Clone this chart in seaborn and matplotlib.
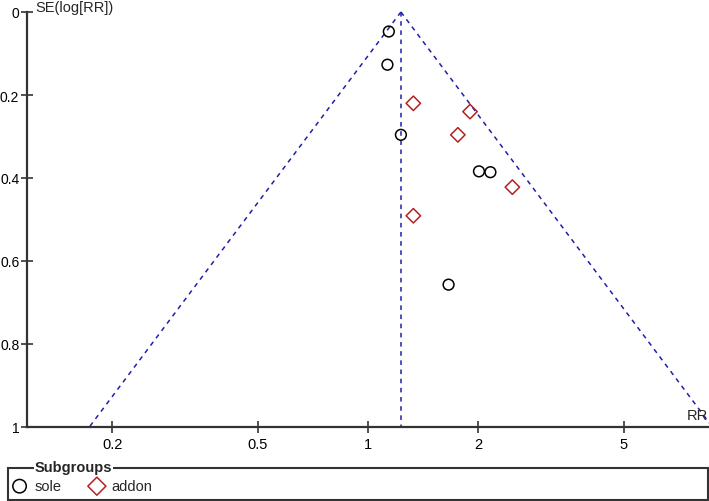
import matplotlib
matplotlib.use("Agg")
import matplotlib.pyplot as plt
import matplotlib.ticker as mticker
from matplotlib.patches import Rectangle
import numpy as np
import pandas as pd
import seaborn as sns

# study estimates
sole_rr = [1.14, 1.13, 1.23, 2.01, 2.16, 1.66]
sole_se = [0.047, 0.127, 0.296, 0.384, 0.386, 0.657]
addon_rr = [1.33, 1.90, 1.76, 2.48, 1.33]
addon_se = [0.220, 0.240, 0.296, 0.422, 0.491]
pooled_rr = 1.23
x_ticks = [0.2, 0.5, 1, 2, 5]
y_ticks = [0, 0.2, 0.4, 0.6, 0.8, 1]

sole = pd.DataFrame({"rr": sole_rr, "se": sole_se})
addon = pd.DataFrame({"rr": addon_rr, "se": addon_se})

sns.set_theme(style="white")
plt.rcParams["font.family"] = ["Liberation Sans", "DejaVu Sans"]
plt.rcParams["font.size"] = 10

W, H = 709, 502
fig = plt.figure(figsize=(W / 100, H / 100), dpi=100)
ax = fig.add_axes([27 / W, 74 / H, 682 / W, 415 / H])

blue = "#1f1fa8"
red = "#b22222"

# funnel (pseudo 95% limits) and pooled estimate line
se_line = np.array([0, 1.0])
ax.plot(pooled_rr * np.exp(-1.96 * se_line), se_line, ls=(0, (3, 3)), color=blue, lw=1.1, clip_on=False)
ax.plot(pooled_rr * np.exp(1.96 * se_line), se_line, ls=(0, (3, 3)), color=blue, lw=1.1, clip_on=False)
ax.plot([pooled_rr, pooled_rr], [0, 1], ls=(0, (3, 3)), color=blue, lw=1.1, clip_on=False)

sns.scatterplot(data=sole, x="rr", y="se", marker="o", s=60, facecolor="none",
                edgecolor="black", linewidth=1.1, color="black", ax=ax, label="sole", zorder=3)
sns.scatterplot(data=addon, x="rr", y="se", marker="D", s=54, facecolor="none",
                edgecolor=red, linewidth=1.1, color=red, ax=ax, label="addon", zorder=3)

ax.set_xscale("log")
lim = 10 ** 0.9317
ax.set_xlim(1 / lim, lim)
ax.set_ylim(1, 0)
ax.set_xticks(x_ticks)
ax.xaxis.set_major_formatter(mticker.FuncFormatter(lambda v, p: f"{v:g}"))
ax.xaxis.set_minor_locator(mticker.NullLocator())
ax.set_yticks(y_ticks)
ax.yaxis.set_major_formatter(mticker.FuncFormatter(lambda v, p: f"{v:g}"))
ax.set_xlabel("")
ax.set_ylabel("")
ax.tick_params(bottom=True, left=True, direction="inout", length=9, width=1.1,
               color="#222222", labelsize=10.5, labelcolor="black")
ax.tick_params(axis="x", pad=3)
ax.tick_params(axis="y", pad=1, labelsize=10)

for side in ["top", "right"]:
    ax.spines[side].set_visible(False)
for side in ["left", "bottom"]:
    ax.spines[side].set_color("#333333")
    ax.spines[side].set_linewidth(1.6)

fig.text(35 / W, 1 - 8 / H, "SE(log[RR])", ha="left", va="center", fontsize=10.5)
fig.text(708 / W, 1 - 416 / H, "RR", ha="right", va="center", fontsize=10.5)

# subgroup legend box along the bottom
fig.add_artist(Rectangle((8 / W, 1.5 / H), 700 / W, 32 / H, transform=fig.transFigure,
                         fill=False, edgecolor="#333333", lw=1.5))
fig.text(35 / W, 1 - 468 / H, "Subgroups", ha="left", va="center", fontsize=10.5,
         fontweight="bold", bbox=dict(facecolor="white", edgecolor="none", pad=0.5))
handles, labels = ax.get_legend_handles_labels()
ax.legend(handles, labels, loc="center left", bbox_to_anchor=(13 / W, 1 - 487 / H),
          bbox_transform=fig.transFigure, frameon=False, ncol=2, fontsize=10.5,
          markerscale=1.25, handlelength=0.9, handletextpad=0.55, columnspacing=2.0,
          borderpad=0, borderaxespad=0)

fig.savefig("out.png", dpi=100)
